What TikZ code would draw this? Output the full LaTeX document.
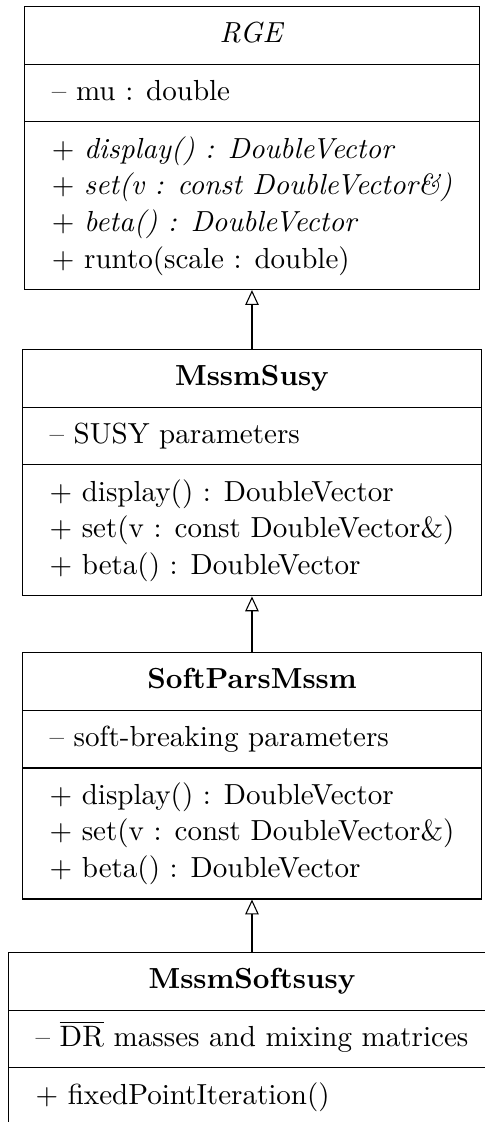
\documentclass[tikz,border=0pt]{standalone}
\usetikzlibrary{shapes.multipart,arrows.meta}

% one member per row, left aligned
\newcommand{\members}[1]{\begin{tabular}{@{}l@{}}#1\end{tabular}}

\begin{document}
\begin{tikzpicture}[%
      umlclass/.style={draw, rectangle split, rectangle split parts=3, rectangle split part align={center, left, left}, anchor=north, inner xsep=10.2pt, inner ysep=3.7pt, font=\fontsize{10.77}{13.6}\selectfont},
      line/.style={draw, -{Triangle[open, length=5.5pt, width=5pt]}}
      ]
    \useasboundingbox (0, 0) rectangle (6.31, -14.628);

    \node [umlclass] (rge) at (3.285, -0.078) {\strut\textit{RGE}
      \nodepart{two} \members{-- mu : double}
      \nodepart{three} \members{+ \textit{display() : DoubleVector}\\
        + \textit{set(v : const DoubleVector\&)}\\
        + \textit{beta() : DoubleVector}\\
        + runto(scale : double)}};

    \node [umlclass] (susy) at (3.285, -4.55) {\strut\textbf{MssmSusy}
      \nodepart{two} \members{-- SUSY parameters}
      \nodepart{three} \members{+ display() : DoubleVector\\
        + set(v : const DoubleVector\&)\\
        + beta() : DoubleVector}};

    \node [umlclass] (soft) at (3.285, -8.501) {\strut\textbf{SoftParsMssm}
      \nodepart{two} \members{-- soft-breaking parameters}
      \nodepart{three} \members{+ display() : DoubleVector\\
        + set(v : const DoubleVector\&)\\
        + beta() : DoubleVector}};

    \node [umlclass] (softsusy) at (3.285, -12.412) {\strut\textbf{MssmSoftsusy}
      \nodepart{two} \members{-- $\overline{\mathrm{DR}}$ masses and mixing matrices}
      \nodepart{three} \members{+ fixedPointIteration()}};

    % inheritance
    \path [line] (susy.north) -- (rge.south);
    \path [line] (soft.north) -- (susy.south);
    \path [line] (softsusy.north) -- (soft.south);
  \end{tikzpicture}
\end{document}
